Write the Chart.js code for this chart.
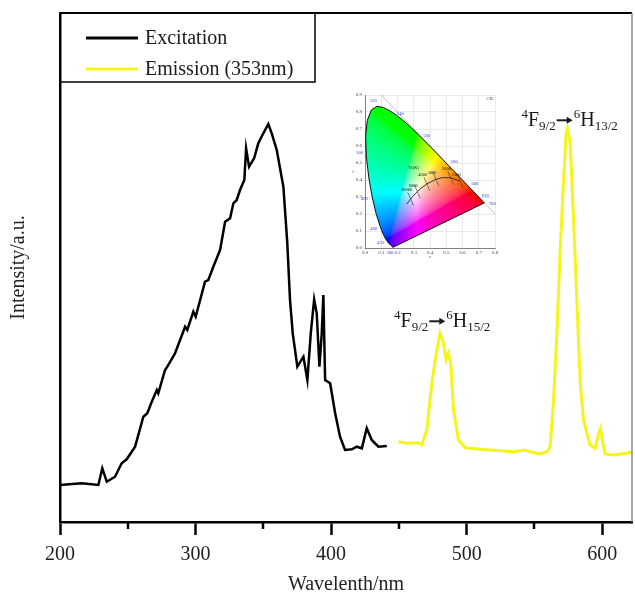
<!DOCTYPE html>
<html>
<head>
<meta charset="utf-8">
<script src="https://cdn.jsdelivr.net/npm/chart.js@4.4.0/dist/chart.umd.min.js"></script>
<style>
    body { margin: 0; background: #fff; }
    #wrap { position: relative; width: 635px; height: 594px; }
    #spectra { position: absolute; left: 0; top: 0; }
    #cie { position: absolute; left: 350px; top: 88px; filter: blur(0.4px); }
</style>
</head>
<body>
<div id="wrap">
    <canvas id="spectra" width="635" height="594"></canvas>
    <canvas id="cie" width="150" height="172"></canvas>
</div>
<script>
// excitation spectrum (monitored emission), wavelength in nm / intensity a.u.
const excitationNm = [200, 216, 228.3, 231.2, 234.5, 240.6, 245.5, 249.2, 255.4, 261.5,
    264.4, 267.7, 271.4, 272.5, 277.5, 279.2, 284.9, 292.3, 293.9, 298.4,
    300.1, 307, 309.4, 313.1, 318.1, 321.8, 325.5, 327.9, 330.4, 332.8,
    336, 337.3, 339.5, 343.2, 346.3, 350, 353.7, 356.2, 359.9, 364.8,
    367.7, 369.7, 371.7, 375.1, 379.6, 382.5, 385, 387.5, 389.4, 391.4,
    393.1, 394.3, 395.6, 399.3, 403, 406.6, 410.3, 415.3, 418.9, 422.7,
    426.3, 430, 434.9, 441.1];
const excitationInt = [37, 38.7, 37, 53.7, 40.3, 45.3, 58.7, 62.7, 75.3, 105.3,
    108.7, 120.3, 132, 128.7, 152, 155.3, 168.7, 195.3, 192, 210.3,
    205.3, 240.3, 242, 255.3, 272, 300.3, 303.7, 318.7, 322, 332,
    342, 373.7, 355.3, 363.7, 378.7, 388.7, 398, 388.7, 372, 335.3,
    278.7, 222, 188.7, 155.3, 165.3, 142, 188.7, 222.7, 208.7, 155.3,
    188.7, 227, 142, 138.7, 108.7, 85.3, 72, 72.7, 75.3, 73.7,
    93.7, 82, 75.3, 76];

// emission spectrum under 353 nm excitation
const emissionNm = [449.7, 455.9, 464.4, 466.9, 470.6, 474.3, 478, 480.4, 482.9, 484.9,
    486.6, 488.3, 490.3, 494, 498.9, 510, 534.5, 543.2, 546.9, 554.2,
    559.2, 561.6, 564.1, 566.6, 569, 571.4, 573.4, 574.4, 576.4, 578.8,
    581.3, 583.8, 586.2, 591.1, 594.8, 597.3, 598.7, 600.5, 602.2, 608.4,
    618.2, 622];
const emissionInt = [80.3, 78.7, 79.3, 77, 92, 138.7, 172, 188.7, 178.7, 162,
    168.7, 158.7, 112, 82, 74.3, 72.7, 70.3, 72, 70.3, 68,
    70.3, 75.3, 122, 188.7, 272, 338.7, 388.7, 393.7, 378.7, 305.3,
    222, 138.7, 102, 77, 73.7, 88.7, 93.7, 78.7, 68, 67,
    68.7, 70];

const seriesNames = ['Excitation', 'Emission (353nm)'];
const seriesColors = ['#000000', '#f5f51e'];
const xTicks = [200, 300, 400, 500, 600];
const xMinorTicks = [250, 350, 450, 550];

// Dy3+ transitions marked above the emission peaks
const transitionNm = [480.4, 574.4];
const transitionInt = [188.7, 393.7];
const transitionLower = ['15/2', '13/2'];

// CIE 1931 spectral locus
const locusWl = [380, 400, 420, 430, 440, 450, 460, 470, 475, 480, 485, 490, 495, 500, 505,
    510, 515, 520, 525, 530, 535, 540, 545, 550, 555, 560, 565, 570, 575, 580,
    585, 590, 595, 600, 605, 610, 620, 630, 640, 650, 700];
const locusX = [0.1741, 0.1733, 0.1714, 0.1689, 0.1644, 0.1566, 0.1440, 0.1241, 0.1096, 0.0913,
    0.0687, 0.0454, 0.0235, 0.0082, 0.0039, 0.0139, 0.0389, 0.0743, 0.1142, 0.1547,
    0.1929, 0.2296, 0.2658, 0.3016, 0.3373, 0.3731, 0.4087, 0.4441, 0.4788, 0.5125,
    0.5448, 0.5752, 0.6029, 0.6270, 0.6482, 0.6658, 0.6915, 0.7079, 0.7190, 0.7260, 0.7347];
const locusY = [0.0050, 0.0048, 0.0051, 0.0069, 0.0109, 0.0177, 0.0297, 0.0578, 0.0868, 0.1327,
    0.2007, 0.2950, 0.4127, 0.5384, 0.6548, 0.7502, 0.8120, 0.8338, 0.8262, 0.8059,
    0.7816, 0.7543, 0.7243, 0.6923, 0.6589, 0.6245, 0.5896, 0.5547, 0.5202, 0.4866,
    0.4544, 0.4242, 0.3965, 0.3725, 0.3514, 0.3340, 0.3083, 0.2920, 0.2809, 0.2740, 0.2653];
const locusLabels = [380, 470, 480, 490, 500, 520, 540, 560, 580, 600, 620, 700];

// Planckian locus and isotemperature lines
const planckT = [1500, 2000, 2500, 3000, 4000, 5000, 6000, 8000, 10000, 20000];
const planckX = [0.5857, 0.5267, 0.4770, 0.4369, 0.3805, 0.3451, 0.3221, 0.2952, 0.2807, 0.2565];
const planckY = [0.3931, 0.4133, 0.4137, 0.4041, 0.3768, 0.3516, 0.3318, 0.3048, 0.2883, 0.2577];
const isoT = [1500, 2000, 3000, 4000, 6000, 10000];

const serif = '"Liberation Serif", "Times New Roman", serif';
Chart.defaults.font.family = serif;

function toPoints(xs, ys) {
    return xs.map((x, i) => ({ x: x, y: ys[i] }));
}

function drawTransition(ctx, x, y, lower) {
    let cx = x;
    const put = (t, size, dy) => {
        ctx.font = size + 'px ' + serif;
        ctx.fillText(t, cx, y + dy);
        cx += ctx.measureText(t).width;
    };
    put('4', 13, -8);
    put('F', 20, 0);
    put('9/2', 13, 4);
    // solid arrow
    cx += 1;
    ctx.beginPath();
    ctx.lineWidth = 2;
    ctx.moveTo(cx, y - 6);
    ctx.lineTo(cx + 11, y - 6);
    ctx.stroke();
    ctx.beginPath();
    ctx.moveTo(cx + 16, y - 6);
    ctx.lineTo(cx + 10, y - 9.5);
    ctx.lineTo(cx + 10, y - 2.5);
    ctx.closePath();
    ctx.fill();
    cx += 17;
    put('6', 13, -8);
    put('H', 20, 0);
    put(lower, 13, 4);
}

const framePlugin = {
    id: 'frame',
    afterDraw(chart) {
        const ctx = chart.ctx;
        const { left, right, top, bottom } = chart.chartArea;
        const xs = chart.scales.x;
        const ys = chart.scales.y;
        ctx.save();

        // minor ticks
        ctx.strokeStyle = '#000';
        ctx.lineWidth = 2.5;
        xMinorTicks.forEach(v => {
            const px = Math.round(xs.getPixelForValue(v));
            ctx.beginPath();
            ctx.moveTo(px, bottom);
            ctx.lineTo(px, bottom + 7);
            ctx.stroke();
        });

        // top and right edges of the box
        ctx.lineWidth = 2;
        ctx.beginPath();
        ctx.moveTo(left, top);
        ctx.lineTo(right, top);
        ctx.stroke();
        ctx.strokeStyle = '#888';
        ctx.lineWidth = 1.5;
        ctx.beginPath();
        ctx.moveTo(right, top);
        ctx.lineTo(right, bottom);
        ctx.stroke();

        // legend
        ctx.strokeStyle = '#000';
        ctx.lineWidth = 1.5;
        ctx.strokeRect(left, top, 255, 69);
        chart.data.datasets.forEach((ds, i) => {
            const ly = top + 25 + i * 31;
            ctx.strokeStyle = ds.borderColor;
            ctx.lineWidth = 3;
            ctx.beginPath();
            ctx.moveTo(left + 26, ly);
            ctx.lineTo(left + 78, ly);
            ctx.stroke();
            ctx.fillStyle = '#1a1a1a';
            ctx.font = '20px ' + serif;
            ctx.textBaseline = 'middle';
            ctx.fillText(ds.label, left + 85, ly + 1);
        });

        // transition labels
        ctx.fillStyle = '#1a1a1a';
        ctx.strokeStyle = '#1a1a1a';
        ctx.textBaseline = 'alphabetic';
        transitionNm.forEach((nm, i) => {
            const px = xs.getPixelForValue(nm);
            const py = ys.getPixelForValue(transitionInt[i]);
            drawTransition(ctx, px - 46, py - (i === 0 ? 6 : 2), transitionLower[i]);
        });
        ctx.restore();
    }
};

new Chart(document.getElementById('spectra'), {
    type: 'line',
    data: {
        datasets: [
            {
                label: seriesNames[0],
                data: toPoints(excitationNm, excitationInt),
                borderColor: seriesColors[0],
                borderWidth: 2.5,
                pointRadius: 0,
                tension: 0
            },
            {
                label: seriesNames[1],
                data: toPoints(emissionNm, emissionInt),
                borderColor: seriesColors[1],
                borderWidth: 3,
                pointRadius: 0,
                tension: 0
            }
        ]
    },
    options: {
        responsive: false,
        animation: false,
        layout: { padding: { top: 13, right: 3, left: 0, bottom: 0 } },
        plugins: {
            legend: { display: false },
            tooltip: { enabled: false }
        },
        scales: {
            x: {
                type: 'linear',
                min: 200,
                max: 622,
                afterBuildTicks(scale) {
                    scale.ticks = xTicks.map(v => ({ value: v }));
                },
                ticks: {
                    color: '#222',
                    font: { size: 20 },
                    padding: 8,
                    maxRotation: 0
                },
                grid: {
                    drawOnChartArea: false,
                    drawTicks: true,
                    tickLength: 13,
                    tickWidth: 2.5,
                    tickColor: '#000'
                },
                border: { display: true, color: '#000', width: 2.5 },
                title: {
                    display: true,
                    text: 'Wavelenth/nm',
                    color: '#222',
                    font: { size: 20 },
                    padding: { top: 0, bottom: -3 }
                },
                afterFit(scale) { scale.height = 72; }
            },
            y: {
                min: 0,
                max: 509,
                ticks: { display: false },
                grid: { drawOnChartArea: false, drawTicks: false },
                border: { display: true, color: '#000', width: 2.5 },
                title: {
                    display: true,
                    text: 'Intensity/a.u.',
                    color: '#222',
                    font: { size: 20 },
                    padding: { top: 7, bottom: 0 }
                },
                afterFit(scale) { scale.width = 60; }
            }
        }
    },
    plugins: [framePlugin]
});

// ---- CIE chromaticity inset ----

function xyToRgb(x, y) {
    const X = x / y, Y = 1, Z = (1 - x - y) / y;
    let r = 3.2406 * X - 1.5372 * Y - 0.4986 * Z;
    let g = -0.9689 * X + 1.8758 * Y + 0.0415 * Z;
    let b = 0.0557 * X - 0.2040 * Y + 1.0570 * Z;
    r = Math.max(r, 0); g = Math.max(g, 0); b = Math.max(b, 0);
    const m = Math.max(r, g, b) || 1;
    return [r, g, b].map(c => Math.round(255 * Math.pow(c / m, 1 / 2.2)));
}

function inside(poly, px, py) {
    let hit = false;
    for (let i = 0, j = poly.length - 1; i < poly.length; j = i++) {
        const [xi, yi] = poly[i], [xj, yj] = poly[j];
        if ((yi > py) !== (yj > py) && px < (xj - xi) * (py - yi) / (yj - yi) + xi) hit = !hit;
    }
    return hit;
}

const cieFill = {
    id: 'cieFill',
    beforeDatasetsDraw(chart) {
        const { left, top, width, height } = chart.chartArea;
        const xs = chart.scales.x, ys = chart.scales.y;
        const poly = locusX.map((x, i) => [xs.getPixelForValue(x), ys.getPixelForValue(locusY[i])]);
        const off = document.createElement('canvas');
        off.width = Math.ceil(width);
        off.height = Math.ceil(height);
        const octx = off.getContext('2d');
        const img = octx.createImageData(off.width, off.height);
        for (let j = 0; j < off.height; j++) {
            for (let i = 0; i < off.width; i++) {
                const px = left + i + 0.5, py = top + j + 0.5;
                if (!inside(poly, px, py)) continue;
                const c = xyToRgb(xs.getValueForPixel(px), Math.max(ys.getValueForPixel(py), 0.003));
                const k = (j * off.width + i) * 4;
                img.data[k] = c[0];
                img.data[k + 1] = c[1];
                img.data[k + 2] = c[2];
                img.data[k + 3] = 255;
            }
        }
        octx.putImageData(img, 0, 0);
        chart.ctx.drawImage(off, left, top);
    },
    afterDatasetsDraw(chart) {
        const ctx = chart.ctx;
        const xs = chart.scales.x, ys = chart.scales.y;
        ctx.save();
        ctx.font = '4.5px ' + serif;
        ctx.textAlign = 'center';
        ctx.textBaseline = 'middle';
        ctx.fillStyle = '#2b3fd0';
        locusLabels.forEach(wl => {
            const i = locusWl.indexOf(wl);
            const dx = locusX[i] - 0.33, dy = locusY[i] - 0.33;
            const d = Math.hypot(dx, dy);
            const px = xs.getPixelForValue(locusX[i]) + dx / d * 8;
            const py = ys.getPixelForValue(locusY[i]) - dy / d * 6;
            ctx.fillText(String(wl), px, py);
        });
        ctx.fillStyle = '#111';
        isoT.forEach((t, n) => {
            const i = planckT.indexOf(t);
            ctx.fillText(String(t), xs.getPixelForValue(planckX[i]) - 4, ys.getPixelForValue(planckY[i]) - 6 - (n % 2) * 3);
        });
        ctx.fillText('Tc(K)', xs.getPixelForValue(0.3), ys.getPixelForValue(0.47));
        ctx.fillStyle = '#555';
        ctx.fillText('CIE', xs.getPixelForValue(0.77), ys.getPixelForValue(0.875));
        ctx.restore();
    }
};

const closedLocus = toPoints(locusX, locusY);
closedLocus.push({ x: locusX[0], y: locusY[0] });

const isoLines = isoT.map(t => {
    const i = planckT.indexOf(t);
    return {
        data: [
            { x: planckX[i] - 0.018, y: planckY[i] + 0.04 },
            { x: planckX[i] + 0.018, y: planckY[i] - 0.04 }
        ],
        borderColor: '#333',
        borderWidth: 0.6,
        showLine: true,
        pointRadius: 0
    };
});

new Chart(document.getElementById('cie'), {
    type: 'scatter',
    data: {
        datasets: [
            { data: closedLocus, borderColor: '#111', borderWidth: 1, showLine: true, pointRadius: 0 },
            { data: [{ x: 0.1, y: 0.9 }, { x: 0.8, y: 0.2 }], borderColor: '#999', borderWidth: 0.6, showLine: true, pointRadius: 0 },
            { data: toPoints(planckX, planckY), borderColor: '#222', borderWidth: 0.9, showLine: true, pointRadius: 0 },
            ...isoLines
        ]
    },
    options: {
        responsive: false,
        animation: false,
        layout: { padding: { top: 7, right: 5, left: 0, bottom: 0 } },
        plugins: { legend: { display: false }, tooltip: { enabled: false } },
        scales: {
            x: {
                type: 'linear', min: 0, max: 0.8,
                ticks: { stepSize: 0.1, color: '#444', font: { size: 5 }, padding: 0, maxRotation: 0, callback: v => v.toFixed(1) },
                grid: { color: '#dcdcdc', lineWidth: 0.6, tickLength: 2 },
                border: { color: '#666', width: 0.8 },
                title: { display: true, text: 'x', font: { size: 5 }, padding: 0 },
                afterFit(scale) { scale.height = 12; }
            },
            y: {
                type: 'linear', min: 0, max: 0.9,
                ticks: { stepSize: 0.1, color: '#444', font: { size: 5 }, padding: 1, callback: v => v.toFixed(1) },
                grid: { color: '#dcdcdc', lineWidth: 0.6, tickLength: 2 },
                border: { color: '#666', width: 0.8 },
                title: { display: true, text: 'y', font: { size: 5 }, padding: 0 },
                afterFit(scale) { scale.width = 15; }
            }
        }
    },
    plugins: [cieFill]
});
</script>
</body>
</html>
